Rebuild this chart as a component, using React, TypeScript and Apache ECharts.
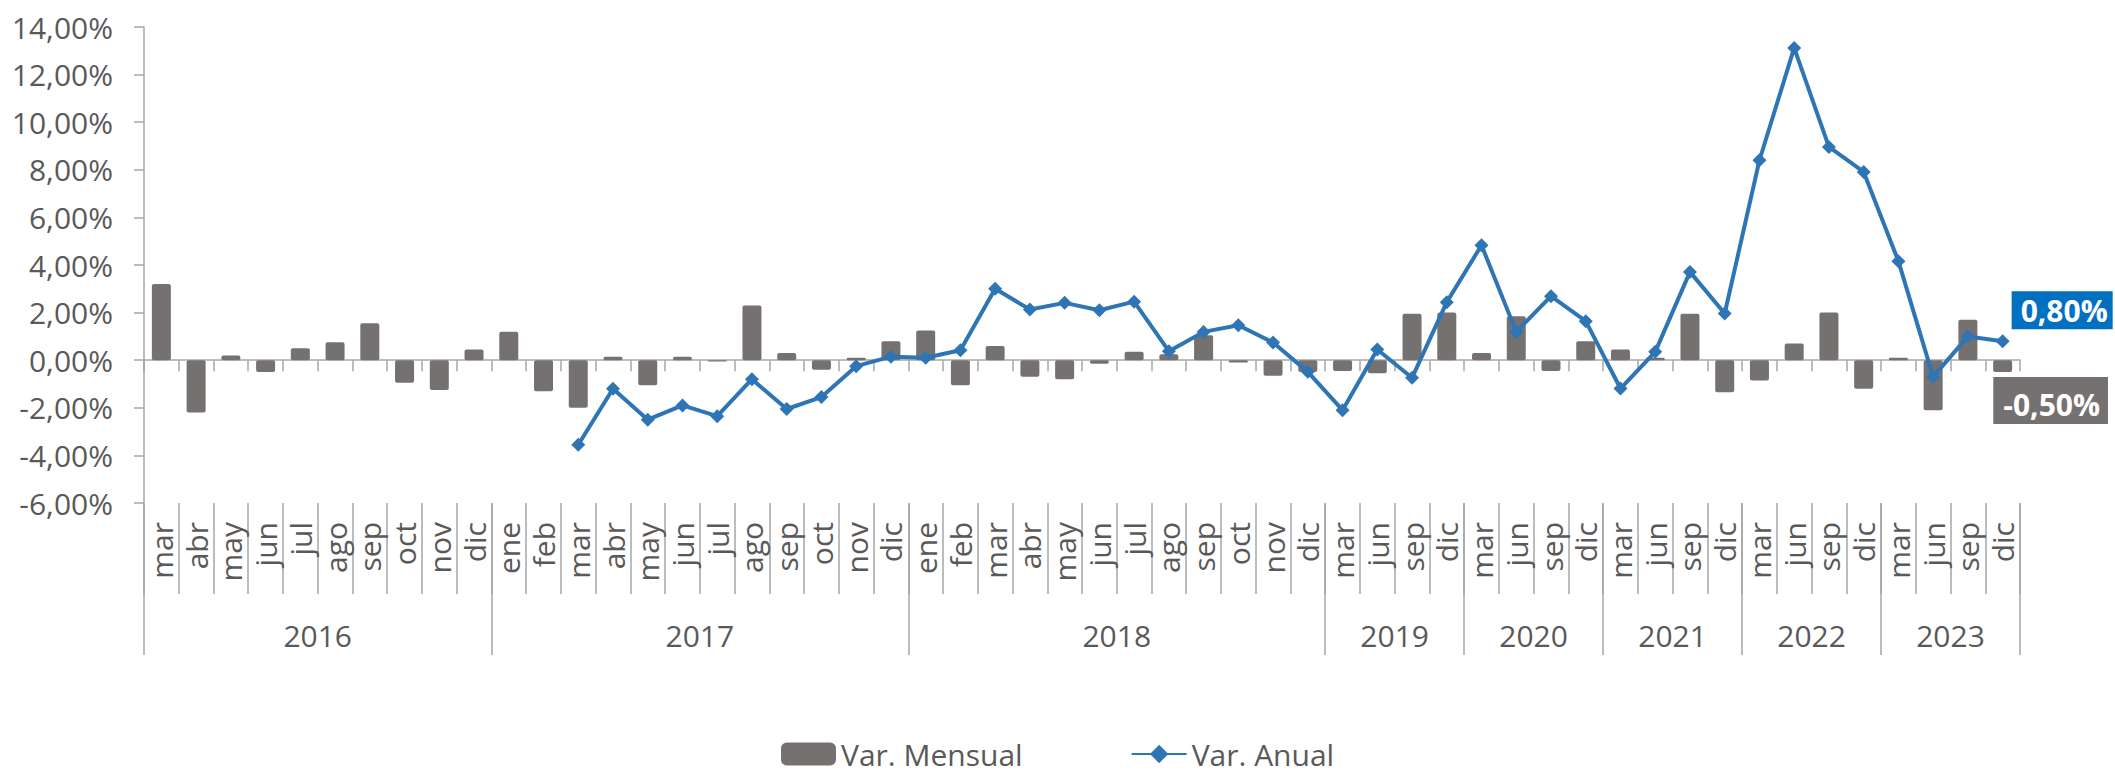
import React, { useEffect, useRef } from 'react';
import * as echarts from 'echarts';

const monthLabels = [
  'mar', 'abr', 'may', 'jun', 'jul', 'ago', 'sep', 'oct', 'nov', 'dic',
  'ene', 'feb', 'mar', 'abr', 'may', 'jun', 'jul', 'ago', 'sep', 'oct', 'nov', 'dic',
  'ene', 'feb', 'mar', 'abr', 'may', 'jun', 'jul', 'ago', 'sep', 'oct', 'nov', 'dic',
  'mar', 'jun', 'sep', 'dic',
  'mar', 'jun', 'sep', 'dic',
  'mar', 'jun', 'sep', 'dic',
  'mar', 'jun', 'sep', 'dic',
  'mar', 'jun', 'sep', 'dic',
];

const yearLabels = ['2016', '2017', '2018', '2019', '2020', '2021', '2022', '2023'];
const yearSizes = [10, 12, 12, 4, 4, 4, 4, 4];

const varMensual = [
  3.2, -2.2, 0.2, -0.5, 0.5, 0.75, 1.55, -0.95, -1.25, 0.45,
  1.2, -1.3, -2.0, 0.15, -1.05, 0.15, -0.05, 2.3, 0.3, -0.4, 0.1, 0.8,
  1.25, -1.05, 0.6, -0.7, -0.8, -0.15, 0.35, 0.25, 1.05, -0.1, -0.65, -0.5,
  -0.45, -0.55, 1.95, 2.0,
  0.3, 1.85, -0.45, 0.8,
  0.45, 0.1, 1.95, -1.35,
  -0.85, 0.7, 2.0, -1.2,
  0.1, -2.1, 1.7, -0.5,
];

const varAnual = [
  null, null, null, null, null, null, null, null, null, null,
  null, null, -3.55, -1.2, -2.5, -1.9, -2.35, -0.8, -2.05, -1.55, -0.25, 0.15,
  0.1, 0.42, 3.0, 2.13, 2.41, 2.1, 2.46, 0.38, 1.19, 1.47, 0.74, -0.49,
  -2.1, 0.45, -0.74, 2.44,
  4.83, 1.19, 2.69, 1.64,
  -1.19, 0.35, 3.71, 1.96,
  8.4, 13.12, 8.96, 7.91,
  4.16, -0.7, 1.0, 0.8,
];

const FONT = "'Open Sans', sans-serif";
const TEXT = '#595959';
const AXIS = '#A6A6A6';
const BAR = '#767171';
const LINE = '#2E75B6';
const LABEL_BLUE = '#0070C0';

const fmtPct = (v: number) => v.toFixed(2).replace('.', ',') + '%';

export default function App() {
  const ref = useRef<HTMLDivElement>(null);

  useEffect(() => {
    if (!ref.current) return;
    const chart = echarts.init(ref.current, null, { renderer: 'svg' });

    const boundaries = new Set<number>();
    const centers = new Set<number>();
    const yearAxisData: string[] = [];
    let start = 0;
    yearSizes.forEach((n, g) => {
      boundaries.add(start);
      centers.add(start + n / 2);
      for (let k = 0; k < n; k++) {
        yearAxisData.push(k === n / 2 ? yearLabels[g] : '');
      }
      start += n;
    });

    const last = varMensual.length - 1;

    const barData = varMensual.map((v, i) =>
      i === last
        ? {
            value: v,
            label: {
              show: true,
              position: 'bottom',
              distance: 5,
              offset: [48, 0],
              formatter: (p: any) => fmtPct(p.value),
              color: '#fff',
              fontFamily: FONT,
              fontSize: 30,
              fontWeight: 'bold',
              backgroundColor: BAR,
              lineHeight: 29,
              padding: [13, 8, 5, 10],
            },
          }
        : v
    );

    const lineData = varAnual.map((v, i) =>
      i === last
        ? {
            value: v,
            label: {
              show: true,
              position: 'right',
              distance: 2,
              offset: [0, -31],
              formatter: (p: any) => fmtPct(p.value),
              color: '#fff',
              fontFamily: FONT,
              fontSize: 30,
              fontWeight: 'bold',
              backgroundColor: LABEL_BLUE,
              lineHeight: 27,
              padding: [11, 5, 0, 9],
            },
          }
        : v
    );

    const axisLineStyle = { color: AXIS, width: 1.5 };

    chart.setOption({
      animation: false,
      backgroundColor: '#ffffff',
      grid: { left: 144, right: 95, top: 27, bottom: 270, containLabel: false },
      legend: {
        data: ['Var. Mensual', 'Var. Anual'],
        left: 781,
        top: 739,
        padding: 0,
        itemWidth: 55,
        itemHeight: 23,
        itemGap: 108,
        textStyle: { fontFamily: FONT, fontSize: 30, color: TEXT, lineHeight: 26 },
      },
      xAxis: [
        {
          type: 'category',
          data: monthLabels,
          position: 'bottom',
          axisLine: { show: true, onZero: true, lineStyle: axisLineStyle },
          axisTick: { show: true, length: 11, interval: 0, lineStyle: axisLineStyle },
          axisLabel: { show: false },
          splitLine: { show: false },
        },
        {
          type: 'category',
          data: monthLabels,
          position: 'bottom',
          axisLine: { show: false, onZero: false },
          axisTick: { show: true, length: 91, interval: 0, lineStyle: axisLineStyle },
          axisLabel: {
            show: true,
            interval: 0,
            rotate: 90,
            margin: 19,
            fontFamily: FONT,
            fontSize: 30,
            color: TEXT,
          },
          splitLine: { show: false },
        },
        {
          type: 'category',
          data: yearAxisData,
          position: 'bottom',
          axisLine: { show: false, onZero: false },
          axisTick: {
            show: true,
            length: 152,
            interval: (idx: number) => boundaries.has(idx),
            lineStyle: axisLineStyle,
          },
          axisLabel: {
            show: true,
            interval: (idx: number) => centers.has(idx),
            margin: 117,
            padding: [0, 34.75, 0, 0],
            fontFamily: FONT,
            fontSize: 30,
            color: TEXT,
          },
          splitLine: { show: false },
        },
      ],
      yAxis: {
        type: 'value',
        min: -6,
        max: 14,
        interval: 2,
        axisLine: { show: true, lineStyle: axisLineStyle },
        axisTick: { show: true, length: 10, lineStyle: axisLineStyle },
        splitLine: { show: false },
        axisLabel: {
          margin: 31,
          fontFamily: FONT,
          fontSize: 30,
          color: TEXT,
          formatter: (v: number) => fmtPct(v),
        },
      },
      series: [
        {
          name: 'Var. Mensual',
          type: 'bar',
          xAxisIndex: 0,
          yAxisIndex: 0,
          barWidth: 19,
          data: barData,
          itemStyle: { color: BAR, borderRadius: 2 },
        },
        {
          name: 'Var. Anual',
          type: 'line',
          xAxisIndex: 0,
          yAxisIndex: 0,
          data: lineData,
          symbol: 'diamond',
          symbolSize: 14,
          showAllSymbol: true,
          connectNulls: false,
          lineStyle: { color: LINE, width: 4 },
          itemStyle: { color: LINE },
          z: 3,
        },
      ],
    });

    return () => chart.dispose();
  }, []);

  return (
    <div
      ref={ref}
      style={{ position: 'absolute', left: 0, top: 0, width: 2115, height: 773 }}
    />
  );
}
